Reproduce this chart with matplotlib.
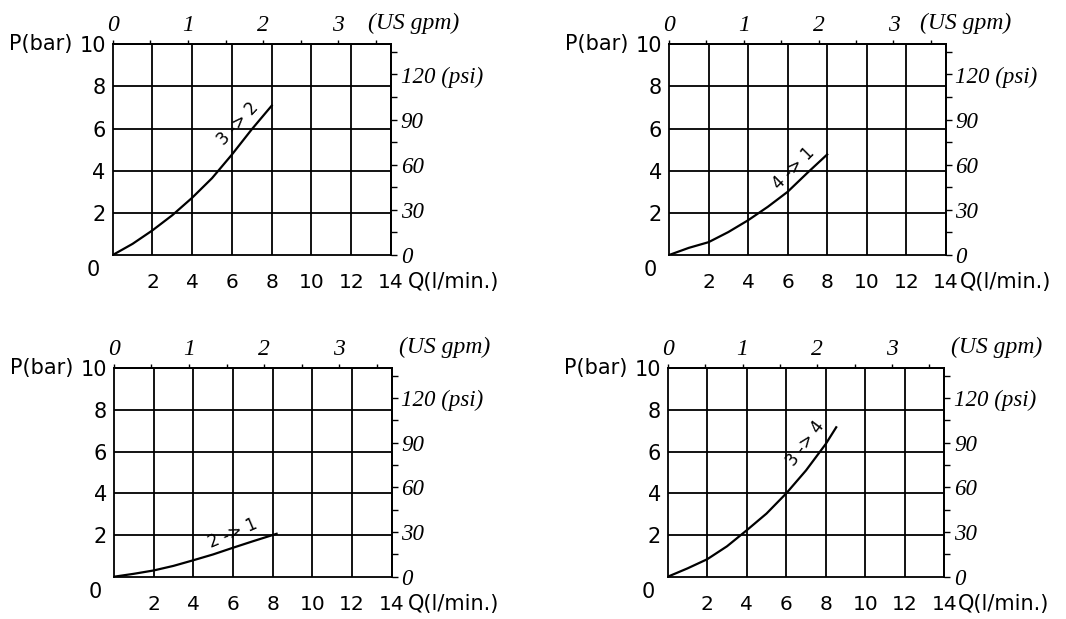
import numpy as np
import matplotlib
matplotlib.use("Agg")
import matplotlib.pyplot as plt
import matplotlib.ticker as mticker

# flow (l/min) and pressure drop (bar)
q_32 = [0, 1, 2, 3, 4, 5, 6, 7, 8.0]
p_32 = [0, 0.53, 1.17, 1.89, 2.72, 3.65, 4.77, 5.97, 7.09]

q_41 = [0, 1, 2, 3, 4, 5, 6, 7, 8.0]
p_41 = [0, 0.34, 0.61, 1.09, 1.65, 2.29, 3.0, 3.9, 4.77]

q_21 = [0, 1, 2, 3, 4, 5, 6, 7, 8.0, 8.2]
p_21 = [0, 0.14, 0.3, 0.52, 0.79, 1.07, 1.39, 1.7, 2.0, 2.06]

q_34 = [0, 1, 2, 3, 4, 5, 6, 7, 8, 8.53]
p_34 = [0, 0.4, 0.84, 1.46, 2.23, 3.03, 4.0, 5.1, 6.37, 7.17]

curve_labels = ["3 -> 2", "4 -> 1", "2 -> 1", "3 -> 4"]
x_ticks = [2, 4, 6, 8, 10, 12, 14]
y_ticks = [2, 4, 6, 8, 10]
psi_labels = ["0", "30", "60", "90", "120 (psi)"]
gpm_labels = ["0", "1", "2", "3"]

LPM_PER_GPM = 3.785
PSI_PER_BAR = 14.0

sans = "DejaVu Sans"
serif = "Liberation Serif"

fig = plt.figure(figsize=(10.66, 6.19), dpi=100)

panels = [
    # axes rect, curve, label pos/rotation, gpm-title x, Q-title x
    ([0.1057, 0.588, 0.2611, 0.3404], q_32, p_32, (6.3, 6.25, 47), 1.08, 1.061),
    ([0.6276, 0.588, 0.2596, 0.3404], q_41, p_41, (6.3, 4.1, 45), 1.07, 1.05),
    ([0.1069, 0.0683, 0.2605, 0.3367], q_21, p_21, (6.0, 2.1, 23), 1.19, 1.059),
    ([0.6264, 0.0683, 0.2594, 0.3367], q_34, p_34, (6.95, 6.4, 53), 1.19, 1.05),
]

for i, (rect, q, p, lab, gpm_x, q_x) in enumerate(panels):
    ax = fig.add_axes(rect)
    ax.set_xlim(0, 14)
    ax.set_ylim(0, 10)

    ax.plot(q, p, color="black", lw=1.6)
    lx, ly, rot = lab
    ax.text(lx, ly, curve_labels[i], rotation=rot, ha="center", va="center",
            fontsize=12, family=sans, rotation_mode="anchor")

    # grid
    ax.set_xticks(x_ticks)
    ax.set_yticks(y_ticks)
    ax.grid(True, color="black", lw=1.3)
    ax.tick_params(axis="both", length=0, labelsize=15)
    ax.tick_params(axis="x", pad=13, labelsize=14.5)
    ax.tick_params(axis="y", pad=5)
    for lbl in ax.get_xticklabels() + ax.get_yticklabels():
        lbl.set_family(sans)
    for s in ax.spines.values():
        s.set_linewidth(1.3)

    # the zero sits below the corner
    ax.annotate("0", xy=(0, 0), xycoords="data", xytext=(-9, -11),
                textcoords="offset points", ha="right", va="center",
                fontsize=15, family=sans)
    ax.annotate("P(bar)", xy=(0, 10), xycoords="data", xytext=(-29, 0),
                textcoords="offset points", ha="right", va="center",
                fontsize=15, family=sans)
    ax.text(q_x, -0.13, "Q(l/min.)", transform=ax.transAxes, ha="left",
            va="center", fontsize=15, family=sans)

    # US gpm on top
    top = ax.secondary_xaxis("top", functions=(lambda x: x / LPM_PER_GPM,
                                                lambda g: g * LPM_PER_GPM))
    top.xaxis.set_major_locator(mticker.MultipleLocator(0.5))
    top.xaxis.set_major_formatter(mticker.FuncFormatter(
        lambda v, pos: gpm_labels[int(round(v))] if abs(v - round(v)) < 1e-6 and 0 <= round(v) < len(gpm_labels) else ""))
    top.tick_params(direction="out", length=3, width=1, pad=3, labelsize=17)
    for lbl in top.get_xticklabels():
        lbl.set_family(serif)
        lbl.set_style("italic")
    top.spines["top"].set_linewidth(1.3)
    ax.text(gpm_x, 1.1, "(US gpm)", transform=ax.transAxes, ha="center",
            va="center", fontsize=17, family=serif, style="italic")

    # psi on the right
    right = ax.secondary_yaxis("right", functions=(lambda b: b * PSI_PER_BAR,
                                                    lambda s: s / PSI_PER_BAR))
    right.yaxis.set_major_locator(mticker.MultipleLocator(15))
    right.yaxis.set_major_formatter(mticker.FuncFormatter(
        lambda v, pos: psi_labels[int(round(v / 30))] if abs(v % 30) < 1e-6 and 0 <= round(v / 30) < len(psi_labels) else ""))
    right.tick_params(direction="out", length=4, width=1, pad=3, labelsize=16.5)
    for lbl in right.get_yticklabels():
        lbl.set_family(serif)
        lbl.set_style("italic")
    right.spines["right"].set_linewidth(1.3)

fig.savefig("out.png", dpi=100)
